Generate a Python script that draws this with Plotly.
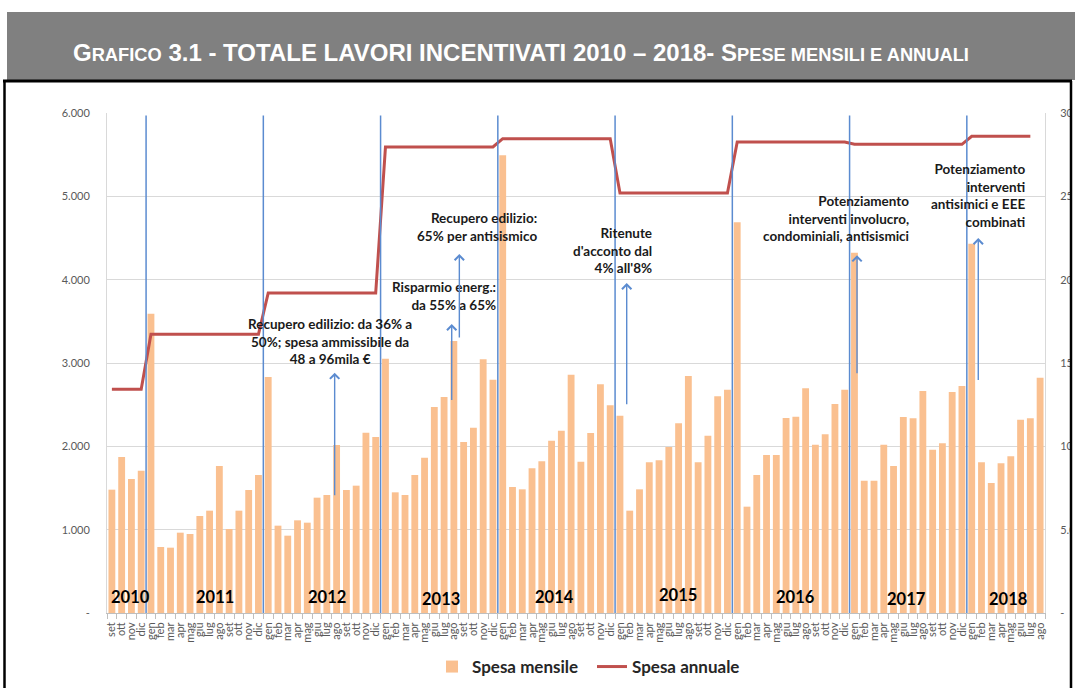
import plotly.graph_objects as go

# Spesa mensile (milioni di euro), set 2010 - ago 2018
mesi = ["gen", "feb", "mar", "apr", "mag", "giu", "lug", "ago", "set", "ott", "nov", "dic"]
anni = [2010, 2011, 2012, 2013, 2014, 2015, 2016, 2017, 2018]

spesa_2010 = [1480, 1872, 1608, 1708]  # set - dic
spesa_2011 = [3592, 792, 784, 964, 948, 1164, 1228, 1764, 1008, 1228, 1476, 1656]
spesa_2012 = [2832, 1048, 928, 1112, 1084, 1384, 1416, 2016, 1476, 1528, 2164, 2112]
spesa_2013 = [3052, 1448, 1416, 1656, 1864, 2472, 2592, 3264, 2052, 2224, 3044, 2800]
spesa_2014 = [5492, 1512, 1484, 1736, 1820, 2068, 2188, 2860, 1816, 2160, 2744, 2492]
spesa_2015 = [2368, 1228, 1484, 1808, 1832, 1992, 2276, 2844, 1808, 2128, 2600, 2680]
spesa_2016 = [4688, 1276, 1656, 1896, 1896, 2340, 2356, 2696, 2020, 2144, 2508, 2680]
spesa_2017 = [4324, 1588, 1588, 2020, 1764, 2352, 2336, 2664, 1960, 2036, 2652, 2724]
spesa_2018 = [4432, 1808, 1560, 1796, 1880, 2320, 2336, 2824]  # gen - ago

# Spesa annuale (asse destro)
spesa_annuale = [13420, 16720, 19200, 27960, 28460, 25200, 28260, 28120, 28600]

left_ticks = [0, 1000, 2000, 3000, 4000, 5000, 6000]
left_labels = ["-", "1.000", "2.000", "3.000", "4.000", "5.000", "6.000"]
right_ticks = [0, 5000, 10000, 15000, 20000, 25000, 30000]
right_labels = ["-", "5.000", "10.000", "15.000", "20.000", "25.000", "30.000"]

# Normative changes
note_testi = [
    "Recupero edilizio: da 36% a<br>50%; spesa ammissibile da<br>48 a 96mila €",
    "Risparmio energ.:<br>da 55% a 65%",
    "Recupero edilizio:<br>65% per antisismico",
    "Ritenute<br>d'acconto dal<br>4% all'8%",
    "Potenziamento<br>interventi involucro,<br>condominiali, antisismici",
    "Potenziamento<br>interventi<br>antisimici e EEE<br>combinati",
]

# build monthly series
per_anno = [spesa_2010, spesa_2011, spesa_2012, spesa_2013, spesa_2014,
            spesa_2015, spesa_2016, spesa_2017, spesa_2018]
etichette, mensile, annuale = [], [], []
for k, vals in enumerate(per_anno):
    start = 8 if k == 0 else 0
    for j, v in enumerate(vals):
        etichette.append(mesi[start + j])
        mensile.append(v)
        annuale.append(spesa_annuale[k])
annuale[-1] = None  # annual line stops at lug 2018
x = list(range(len(mensile)))

# layout geometry (pixels)
W, H = 1075, 688
ML, MR, MT, MB = 107, 30, 113, 75
PW, PH = W - ML - MR, H - MT - MB


def px(xp):
    return (xp - ML) / PW


def py(yp):
    return (H - MB - yp) / PH


fig = go.Figure()
fig.add_trace(go.Bar(
    x=x, y=mensile, name="Spesa mensile",
    marker=dict(color="#FAC090", line=dict(width=0)),
))
fig.add_trace(go.Scatter(
    x=x, y=annuale, name="Spesa annuale", yaxis="y2", mode="lines",
    line=dict(color="#C0504D", width=3),
))

shapes = []
# year separators (between dic and gen)
for i in range(1, len(x)):
    if etichette[i] == "gen":
        shapes.append(dict(type="line", xref="x", yref="y", x0=i - 0.5, x1=i - 0.5,
                           y0=-105, y1=5970, line=dict(color="#5B8BD0", width=1.5)))

# header band and frame
shapes.append(dict(type="rect", xref="paper", yref="paper", layer="above",
                   x0=px(7), x1=px(1080), y0=py(80), y1=py(12),
                   fillcolor="#808080", line=dict(width=0)))
shapes.append(dict(type="rect", xref="paper", yref="paper", layer="above",
                   x0=px(1071), x1=px(1085), y0=py(700), y1=py(80),
                   fillcolor="white", line=dict(width=0)))
shapes.append(dict(type="line", xref="paper", yref="paper", layer="above",
                   x0=px(3), x1=px(1072), y0=py(81), y1=py(81),
                   line=dict(color="black", width=3)))
shapes.append(dict(type="line", xref="paper", yref="paper", layer="above",
                   x0=px(4.5), x1=px(4.5), y0=py(700), y1=py(81),
                   line=dict(color="black", width=2.5)))
shapes.append(dict(type="line", xref="paper", yref="paper", layer="above",
                   x0=px(1071), x1=px(1071), y0=py(700), y1=py(81),
                   line=dict(color="black", width=2.5)))

annotations = []
# title
annotations.append(dict(
    xref="paper", yref="paper", x=px(71), y=py(53), xanchor="left", yanchor="middle",
    showarrow=False, font=dict(family="Liberation Sans", size=24, color="white", weight="bold"),
    text="G<span style='font-size:18.3px'>RAFICO</span> 3.1 - TOTALE LAVORI INCENTIVATI 2010 – 2018- "
         "S<span style='font-size:18.3px'>PESE MENSILI E ANNUALI</span>",
))

# year labels
anno_x = [1.9, 10.6, 22.0, 33.7, 45.35, 57.9, 70.0, 81.3, 91.7]
anno_y = [195, 195, 195, 165, 195, 220, 195, 170, 170]
for a, xa, ya in zip(anni, anno_x, anno_y):
    annotations.append(dict(x=xa, y=ya, xref="x", yref="y", text=str(a), showarrow=False,
                            font=dict(family="Lato", size=16.5, color="black", weight="bold")))

# notes text
note_pos = [(22.3, 3256, "center"), (39.52, 3810, "right"), (43.7, 4630, "right"),
            (55.51, 4351, "right"), (81.75, 4732, "right"), (93.69, 5005, "right")]
for t, (xn, yn, al) in zip(note_testi, note_pos):
    annotations.append(dict(x=xn, y=yn, xref="x", yref="y", text=t, showarrow=False,
                            xanchor=al, align=al, yanchor="middle",
                            font=dict(family="Lato", size=13.5, color="#1a1a1a", weight="bold")))

# arrows
frecce = [(22.8, 1396, 2884), (34.78, 2539, 3468), (35.56, 3288, 4308),
          (52.69, 2488, 3960), (76.26, 2860, 4294), (88.67, 2779, 4500)]
for xf, y0, y1 in frecce:
    annotations.append(dict(x=xf, y=y1, ax=xf, ay=y0, xref="x", yref="y", axref="x", ayref="y",
                            text="", showarrow=True, arrowhead=4, arrowsize=1.3,
                            arrowwidth=1.4, arrowcolor="#5B8BD0"))

fig.update_layout(
    width=W, height=H,
    margin=dict(l=ML, r=MR, t=MT, b=MB, autoexpand=False),
    paper_bgcolor="white", plot_bgcolor="white",
    bargap=0.3,
    showlegend=True,
    legend=dict(orientation="h", x=px(432), y=py(667), xanchor="left", yanchor="middle",
                font=dict(family="Lato", size=17, color="#262626", weight="bold"),
                itemwidth=30, entrywidth=115, tracegroupgap=0),
    xaxis=dict(
        range=[-0.5, len(x) - 0.5], tickmode="array", tickvals=x, ticktext=etichette,
        tickangle=-90, ticks="", ticklabelstandoff=4,
        tickfont=dict(family="Lato", size=11, color="#595959"),
        showline=True, linecolor="#BFBFBF", linewidth=1, showgrid=False, zeroline=False,
        minor=dict(tickmode="array", tickvals=[i - 0.5 for i in range(len(x) + 1)],
                   ticks="outside", ticklen=5, tickcolor="#BFBFBF", showgrid=False),
    ),
    yaxis=dict(
        range=[0, 6000], tickmode="array", tickvals=left_ticks, ticktext=left_labels,
        tickfont=dict(family="Lato", size=11, color="#595959"), ticks="",
        ticklabelstandoff=14,
        showgrid=True, gridcolor="#D9D9D9", gridwidth=1,
        showline=True, linecolor="#D9D9D9", zeroline=False,
    ),
    yaxis2=dict(
        range=[0, 30000], overlaying="y", side="right", tickmode="array",
        tickvals=right_ticks, ticktext=right_labels,
        tickfont=dict(family="Lato", size=11, color="#595959"), ticks="",
        ticklabelstandoff=12,
        showgrid=False, showline=True, linecolor="#D9D9D9", zeroline=False,
    ),
    shapes=shapes,
    annotations=annotations,
)

# drop the default page margin so the figure sits at the window's corner
fig.write_html("out.html", config={"displayModeBar": False},
               post_script="document.body.style.margin='0';")
